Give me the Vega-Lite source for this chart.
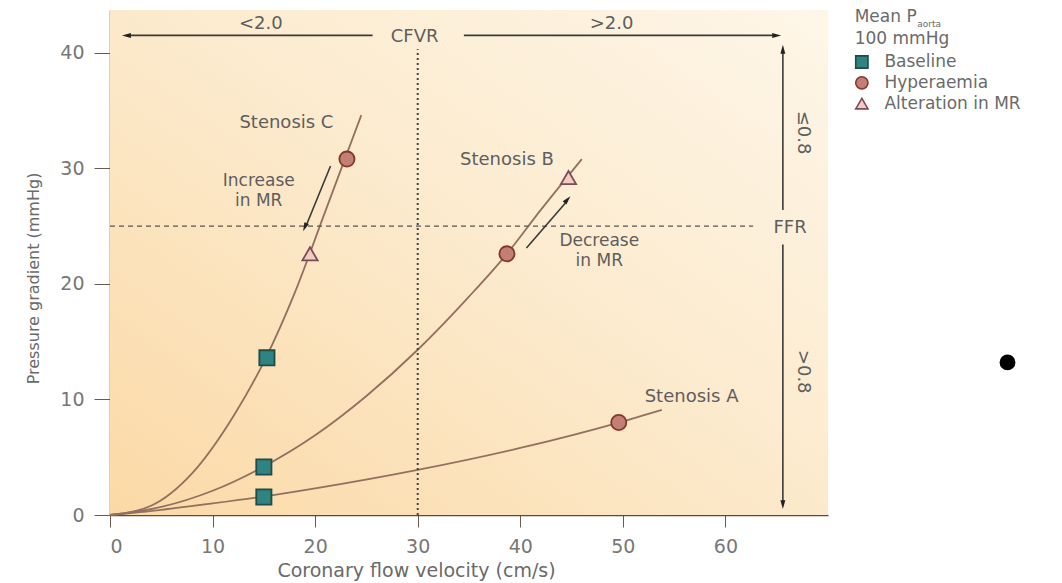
{
  "$schema": "https://vega.github.io/schema/vega-lite/v6.json",
  "width": 718,
  "height": 505,
  "autosize": {"type": "none"},
  "padding": {"left": 110, "top": 10, "right": 234, "bottom": 68},
  "background": "#ffffff",
  "config": {
    "view": {"stroke": null},
    "font": "DejaVu Sans",
    "text": {"font": "DejaVu Sans"}
  },
  "datasets": {
    "curves": [
      {"stenosis": "C", "v": 0, "p": 0}, {"stenosis": "C", "v": 4, "p": 0.8}, {"stenosis": "C", "v": 8, "p": 3.6},
      {"stenosis": "C", "v": 12, "p": 8.5}, {"stenosis": "C", "v": 15.2, "p": 13.6}, {"stenosis": "C", "v": 18, "p": 19.2},
      {"stenosis": "C", "v": 21, "p": 26.3}, {"stenosis": "C", "v": 24.5, "p": 34.6},
      {"stenosis": "B", "v": 0, "p": 0}, {"stenosis": "B", "v": 5, "p": 0.7}, {"stenosis": "B", "v": 10, "p": 2.1},
      {"stenosis": "B", "v": 15, "p": 4.2}, {"stenosis": "B", "v": 20, "p": 6.9}, {"stenosis": "B", "v": 25, "p": 10.3},
      {"stenosis": "B", "v": 30, "p": 14.3}, {"stenosis": "B", "v": 35, "p": 18.9}, {"stenosis": "B", "v": 38.7, "p": 22.6},
      {"stenosis": "B", "v": 42, "p": 26.4}, {"stenosis": "B", "v": 46, "p": 30.8},
      {"stenosis": "A", "v": 0, "p": 0}, {"stenosis": "A", "v": 5, "p": 0.45}, {"stenosis": "A", "v": 10, "p": 1.0},
      {"stenosis": "A", "v": 15, "p": 1.6}, {"stenosis": "A", "v": 20, "p": 2.3}, {"stenosis": "A", "v": 30, "p": 3.9},
      {"stenosis": "A", "v": 40, "p": 5.8}, {"stenosis": "A", "v": 49.6, "p": 8.0}, {"stenosis": "A", "v": 53.8, "p": 9.1}
    ],
    "markers": [
      {"state": "Baseline", "v": 15.3, "p": 13.6},
      {"state": "Baseline", "v": 15.0, "p": 4.15},
      {"state": "Baseline", "v": 15.0, "p": 1.56},
      {"state": "Hyperaemia", "v": 23.1, "p": 30.8},
      {"state": "Hyperaemia", "v": 38.7, "p": 22.6},
      {"state": "Hyperaemia", "v": 49.6, "p": 8.0},
      {"state": "Alteration in MR", "v": 19.5, "p": 22.6},
      {"state": "Alteration in MR", "v": 44.7, "p": 29.2}
    ],
    "legendItems": [
      {"state": "Baseline", "v": 73.3, "p": 39.2, "tv": 75.5},
      {"state": "Hyperaemia", "v": 73.3, "p": 37.4, "tv": 75.5},
      {"state": "Alteration in MR", "v": 73.3, "p": 35.6, "tv": 75.5}
    ],
    "arrows": [
      {"v1": 1.8, "p1": 41.5, "v2": 25.6, "p2": 41.5},
      {"v1": 34.5, "p1": 41.5, "v2": 64.8, "p2": 41.5},
      {"v1": 65.6, "p1": 26.4, "v2": 65.6, "p2": 40.0},
      {"v1": 65.6, "p1": 23.4, "v2": 65.6, "p2": 1.2},
      {"v1": 21.5, "p1": 30.2, "v2": 19.2, "p2": 25.2},
      {"v1": 40.6, "p1": 23.1, "v2": 44.4, "p2": 27.0}
    ],
    "heads": [
      {"v": 1.6, "p": 41.5, "angle": 270},
      {"v": 65.0, "p": 41.5, "angle": 90},
      {"v": 65.6, "p": 40.3, "angle": 0},
      {"v": 65.6, "p": 0.9, "angle": 180},
      {"v": 19.0, "p": 24.9, "angle": 203},
      {"v": 44.6, "p": 27.3, "angle": 41}
    ],
    "labels": [
      {"v": 17.2, "p": 33.9, "label": "Stenosis C"},
      {"v": 38.7, "p": 30.7, "label": "Stenosis B"},
      {"v": 56.7, "p": 10.2, "label": "Stenosis A"},
      {"v": 29.7, "p": 41.4, "label": "CFVR"},
      {"v": 14.7, "p": 42.5, "label": "<2.0"},
      {"v": 48.9, "p": 42.5, "label": ">2.0"},
      {"v": 66.3, "p": 24.8, "label": "FFR"}
    ],
    "twoLine": [
      {"v": 14.5, "p": 28.9, "label": "Increase"},
      {"v": 14.5, "p": 27.15, "label": "in MR"},
      {"v": 47.7, "p": 23.75, "label": "Decrease"},
      {"v": 47.7, "p": 22.0, "label": "in MR"}
    ],
    "rotated": [
      {"v": 67.6, "p": 33.1, "label": "≤0.8"},
      {"v": 67.6, "p": 12.4, "label": ">0.8"}
    ],
    "bullet": [{"v": 87.5, "p": 13.2}]
  },
  "layer": [
    {
      "mark": {
        "type": "rect",
        "fill": {
          "gradient": "linear",
          "x1": 0, "y1": 1, "x2": 1, "y2": 0,
          "stops": [
            {"offset": 0, "color": "#fbd9a6"},
            {"offset": 0.55, "color": "#fcebcf"},
            {"offset": 1, "color": "#fef6e8"}
          ]
        }
      },
      "data": {"values": [{"a": 1}]},
      "encoding": {
        "x": {
          "datum": 0, "type": "quantitative",
          "scale": {"domain": [0, 70], "nice": false, "zero": false},
          "axis": {
            "values": [0, 10, 20, 30, 40, 50, 60],
            "grid": false,
            "title": "Coronary flow velocity (cm/s)",
            "titleX": 306, "titleY": 55, "titleBaseline": "middle",
            "titleFontSize": 19, "titleFontWeight": "normal", "titleColor": "#6a6a6a",
            "labelFontSize": 19, "labelColor": "#777777", "labelPadding": 10,
            "tickSize": 12, "tickColor": "#6a5a50", "domainColor": "#5a4a40", "domainWidth": 1.5
          }
        },
        "x2": {"datum": 70},
        "y": {
          "datum": 0, "type": "quantitative",
          "scale": {"domain": [0, 43.7], "nice": false, "zero": false},
          "axis": {
            "values": [0, 10, 20, 30, 40],
            "grid": false,
            "title": "Pressure gradient (mmHg)",
            "titleX": -77, "titleY": 268, "titleBaseline": "middle",
            "titleFontSize": 16, "titleFontWeight": "normal", "titleColor": "#6a6a6a",
            "labelFontSize": 19, "labelColor": "#777777", "labelPadding": 10,
            "tickSize": 16, "tickColor": "#6a5a50", "domainColor": "#5a4a40", "domainWidth": 1.5
          }
        },
        "y2": {"datum": 43.7}
      }
    },
    {
      "data": {"name": "curves"},
      "mark": {"type": "line", "interpolate": "monotone", "stroke": "#927060", "strokeWidth": 1.8},
      "encoding": {
        "x": {"field": "v", "type": "quantitative"},
        "y": {"field": "p", "type": "quantitative"},
        "detail": {"field": "stenosis"}
      }
    },
    {
      "data": {"values": [{"a": 1}]},
      "mark": {"type": "rule", "stroke": "#555555", "strokeWidth": 1.3, "strokeDash": [5, 4]},
      "encoding": {
        "x": {"datum": 0, "type": "quantitative"},
        "x2": {"datum": 62.7},
        "y": {"datum": 25, "type": "quantitative"}
      }
    },
    {
      "data": {"values": [{"a": 1}]},
      "mark": {"type": "rule", "stroke": "#444444", "strokeWidth": 2, "strokeDash": [2, 3]},
      "encoding": {
        "x": {"datum": 30, "type": "quantitative"},
        "y": {"datum": 0, "type": "quantitative"},
        "y2": {"datum": 40.3}
      }
    },
    {
      "data": {"name": "arrows"},
      "mark": {"type": "rule", "stroke": "#3a3a3a", "strokeWidth": 1.6},
      "encoding": {
        "x": {"field": "v1", "type": "quantitative"},
        "x2": {"field": "v2"},
        "y": {"field": "p1", "type": "quantitative"},
        "y2": {"field": "p2"}
      }
    },
    {
      "data": {"name": "heads"},
      "mark": {"type": "point", "shape": "M0,-1L0.55,1L-0.55,1Z", "filled": true, "color": "#222222", "opacity": 1, "size": 80},
      "encoding": {
        "x": {"field": "v", "type": "quantitative"},
        "y": {"field": "p", "type": "quantitative"},
        "angle": {"field": "angle", "type": "quantitative", "scale": null}
      }
    },
    {
      "data": {"name": "markers"},
      "mark": {"type": "point", "filled": true, "opacity": 1, "size": 230, "strokeWidth": 1.8},
      "encoding": {
        "x": {"field": "v", "type": "quantitative"},
        "y": {"field": "p", "type": "quantitative"},
        "shape": {
          "field": "state", "type": "nominal",
          "scale": {"domain": ["Baseline", "Hyperaemia", "Alteration in MR"], "range": ["square", "circle", "triangle-up"]},
          "legend": null
        },
        "fill": {
          "field": "state", "type": "nominal",
          "scale": {"domain": ["Baseline", "Hyperaemia", "Alteration in MR"], "range": ["#2f8380", "#c27f75", "#f0cdbf"]},
          "legend": null
        },
        "stroke": {
          "field": "state", "type": "nominal",
          "scale": {"domain": ["Baseline", "Hyperaemia", "Alteration in MR"], "range": ["#1d4c4a", "#84372f", "#7d4a5c"]},
          "legend": null
        }
      }
    },
    {
      "data": {"name": "legendItems"},
      "mark": {"type": "point", "filled": true, "opacity": 1, "size": 150, "strokeWidth": 1.6},
      "encoding": {
        "x": {"field": "v", "type": "quantitative"},
        "y": {"field": "p", "type": "quantitative"},
        "shape": {"field": "state", "type": "nominal", "legend": null},
        "fill": {"field": "state", "type": "nominal", "legend": null},
        "stroke": {"field": "state", "type": "nominal", "legend": null}
      }
    },
    {
      "data": {"name": "legendItems"},
      "mark": {"type": "text", "align": "left", "baseline": "middle", "fontSize": 17, "color": "#6a6a6a"},
      "encoding": {
        "x": {"field": "tv", "type": "quantitative"},
        "y": {"field": "p", "type": "quantitative"},
        "text": {"field": "state"}
      }
    },
    {
      "data": {"values": [
        {"v": 72.6, "p": 43.1, "label": "Mean P"},
        {"v": 72.6, "p": 41.2, "label": "100 mmHg"}
      ]},
      "mark": {"type": "text", "align": "left", "baseline": "middle", "fontSize": 17, "color": "#6a6a6a"},
      "encoding": {
        "x": {"field": "v", "type": "quantitative"},
        "y": {"field": "p", "type": "quantitative"},
        "text": {"field": "label"}
      }
    },
    {
      "data": {"values": [{"v": 78.7, "p": 42.5, "label": "aorta"}]},
      "mark": {"type": "text", "align": "left", "baseline": "middle", "fontSize": 9, "color": "#6a6a6a"},
      "encoding": {
        "x": {"field": "v", "type": "quantitative"},
        "y": {"field": "p", "type": "quantitative"},
        "text": {"field": "label"}
      }
    },
    {
      "data": {"name": "labels"},
      "mark": {"type": "text", "align": "center", "baseline": "middle", "fontSize": 18, "color": "#5e5e5e"},
      "encoding": {
        "x": {"field": "v", "type": "quantitative"},
        "y": {"field": "p", "type": "quantitative"},
        "text": {"field": "label"}
      }
    },
    {
      "data": {"name": "twoLine"},
      "mark": {"type": "text", "align": "center", "baseline": "middle", "fontSize": 17, "color": "#5e5e5e"},
      "encoding": {
        "x": {"field": "v", "type": "quantitative"},
        "y": {"field": "p", "type": "quantitative"},
        "text": {"field": "label"}
      }
    },
    {
      "data": {"name": "rotated"},
      "mark": {"type": "text", "align": "center", "baseline": "middle", "fontSize": 18, "angle": 90, "color": "#5e5e5e"},
      "encoding": {
        "x": {"field": "v", "type": "quantitative"},
        "y": {"field": "p", "type": "quantitative"},
        "text": {"field": "label"}
      }
    },
    {
      "data": {"name": "bullet"},
      "mark": {"type": "point", "filled": true, "color": "#000000", "opacity": 1, "size": 250},
      "encoding": {
        "x": {"field": "v", "type": "quantitative"},
        "y": {"field": "p", "type": "quantitative"}
      }
    }
  ]
}
